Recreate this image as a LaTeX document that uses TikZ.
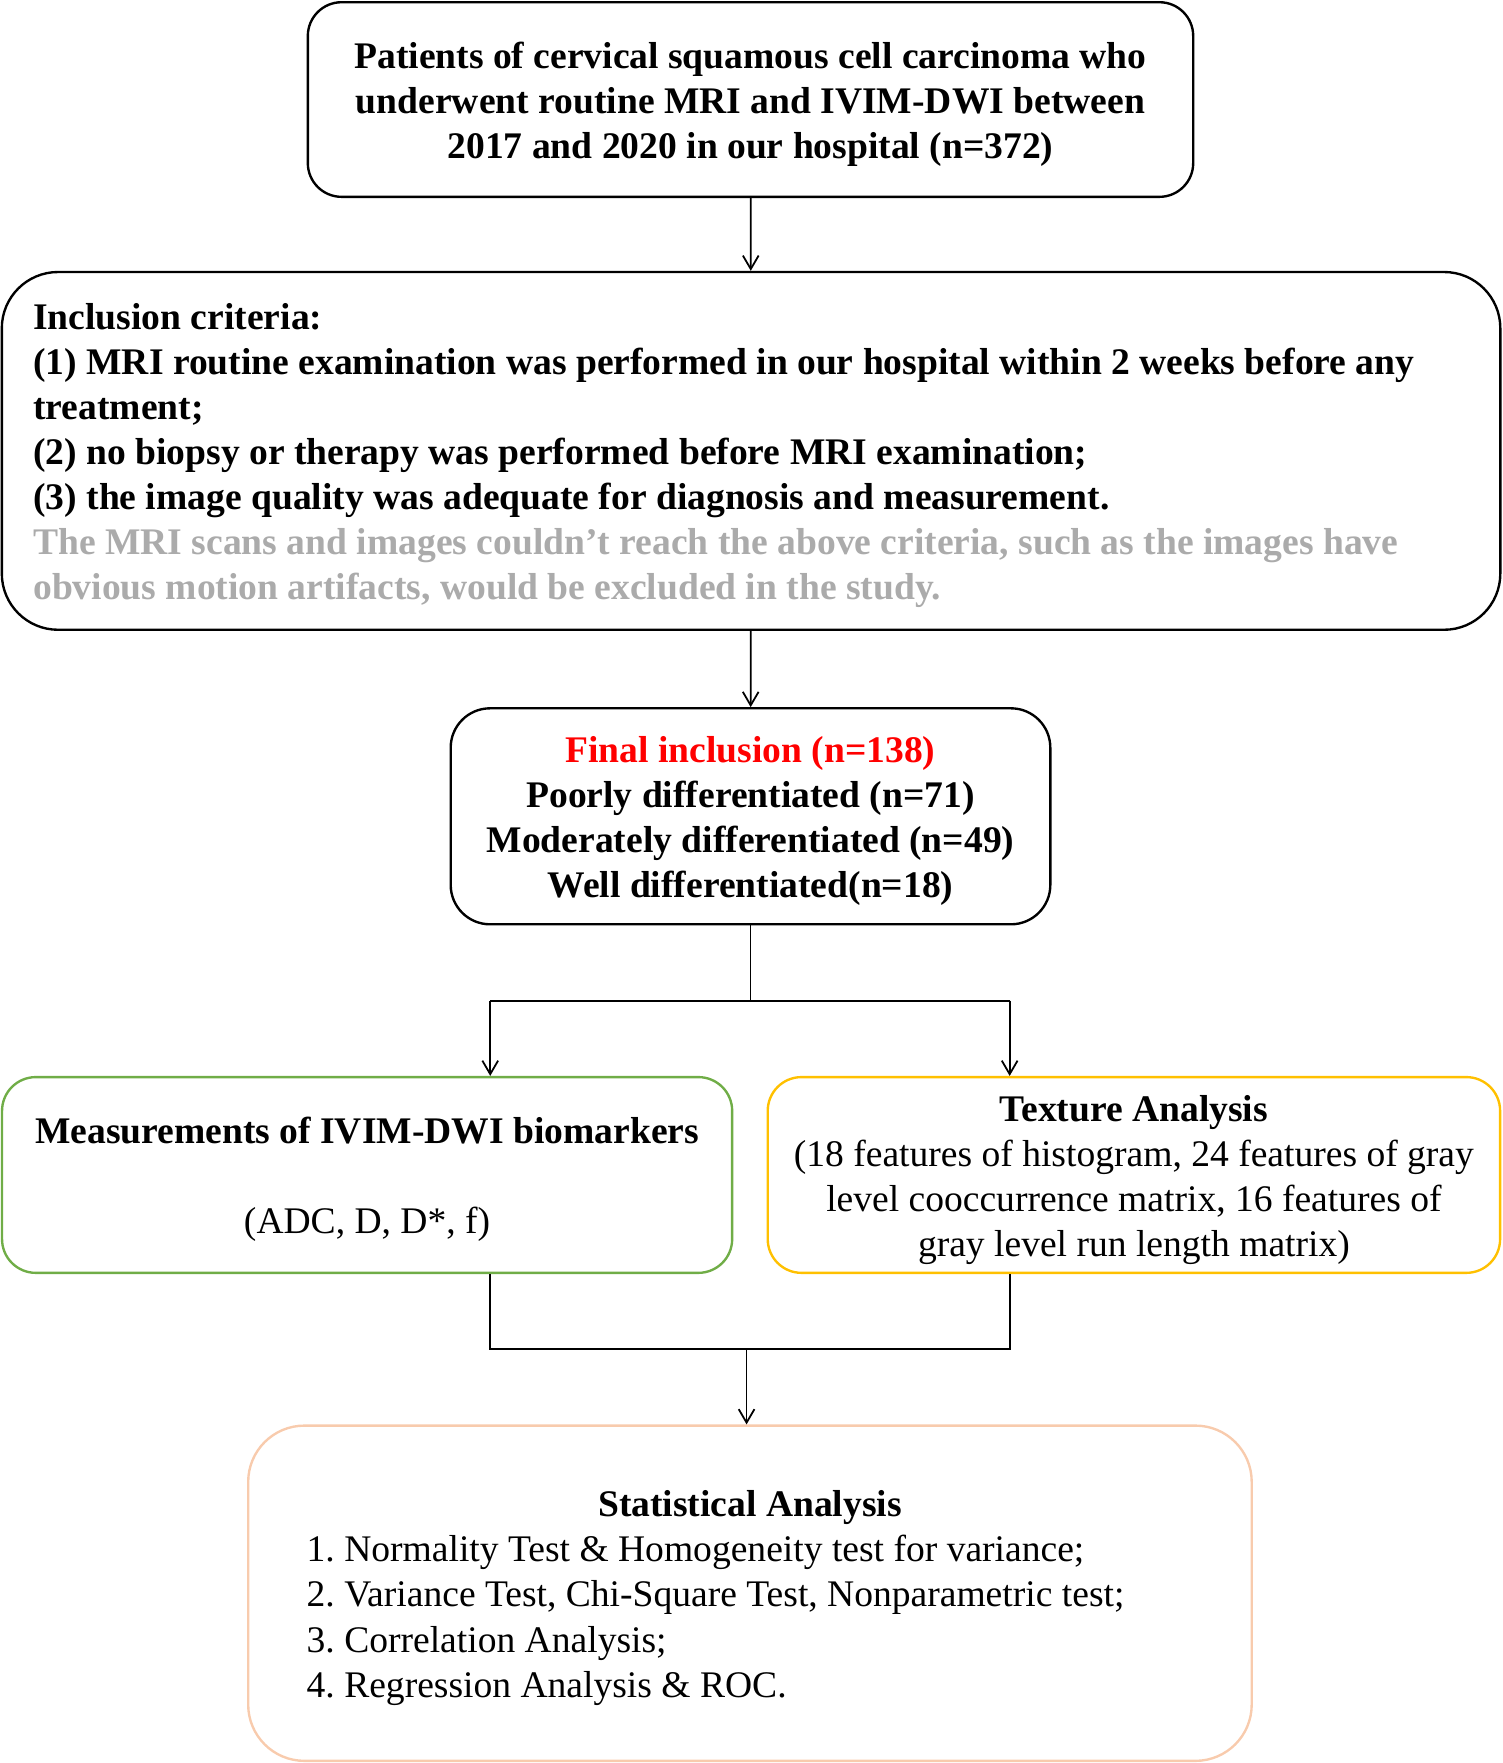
\documentclass[tikz,border=0pt]{standalone}
\usepackage{fontspec}
\setmainfont{Liberation Serif}
\usepackage{xcolor}
\usetikzlibrary{positioning, arrows.meta}
\definecolor{critgray}{HTML}{ABABAB}
\definecolor{measgreen}{HTML}{70AD47}
\definecolor{texyellow}{HTML}{FFC000}
\definecolor{statpeach}{HTML}{F8CBAD}

\begin{document}
\begin{tikzpicture}[x=0.01cm, y=-0.01cm,
    box/.style={draw, line width=0.6pt, align=center, inner sep=0pt, font=\fontsize{9.5pt}{11.4pt}\selectfont,
        execute at begin node={\spaceskip=\fontdimen2\font\xspaceskip=0pt\frenchspacing\rule{0pt}{9pt}}},
    boldbox/.style={box, font=\fontsize{9.5pt}{11.4pt}\selectfont\bfseries},
    line/.style={line width=0.45pt},
    arr/.style={line width=0.45pt, -{Straight Barb[length=1.2mm, width=1.4mm]}}]
    \useasboundingbox (0,0) rectangle (1336,1568);
    % boxes
    \node[boldbox, rounded corners=0.3cm, text width=7.87cm, minimum height=1.73cm] (patients) at (667.5,88.5)
        {Patients of cervical squamous cell carcinoma who\\underwent routine MRI and IVIM-DWI between\\2017 and 2020 in our hospital (n=372)};
    \node[boldbox, align=left, rounded corners=0.5cm, text width=12.76cm, minimum width=13.32cm, minimum height=3.18cm] (criteria) at (668,401)
        {Inclusion criteria:\\
        (1) MRI routine examination was performed in our hospital within 2 weeks before any\\
        treatment;\\
        (2) no biopsy or therapy was performed before MRI examination;\\
        (3) the image quality was adequate for diagnosis and measurement.\\
        \textcolor{critgray}{The MRI scans and images couldn't reach the above criteria, such as the images have}\\
        \textcolor{critgray}{obvious motion artifacts, would be excluded in the study.}};
    \node[boldbox, rounded corners=0.35cm, text width=5.33cm, minimum height=1.92cm] (final) at (667.5,726)
        {\textcolor{red}{Final inclusion (n=138)}\\Poorly differentiated (n=71)\\Moderately differentiated (n=49)\\Well differentiated(n=18)};
    \node[box, draw=measgreen, rounded corners=0.3cm, text width=6.49cm, minimum height=1.74cm] (measure) at (326.5,1045)
        {\textbf{Measurements of IVIM-DWI biomarkers}\\[11.4pt](ADC, D, D*, f)};
    \node[box, draw=texyellow, rounded corners=0.3cm, text width=6.51cm, minimum height=1.74cm] (texture) at (1008.5,1045)
        {\textbf{Texture Analysis}\\(18 features of histogram, 24 features of gray\\level cooccurrence matrix, 16 features of\\gray level run length matrix)};
    \node[box, draw=statpeach, align=left, rounded corners=0.5cm, text width=7.88cm, minimum width=8.92cm, minimum height=2.98cm] (stats) at (667,1417)
        {\makebox[7.88cm][c]{\textbf{Statistical Analysis}}\\
        1. Normality Test \& Homogeneity test for variance;\\
        2. Variance Test, Chi-Square Test, Nonparametric test;\\
        3. Correlation Analysis;\\
        4. Regression Analysis \& ROC.};
    % connectors
    \coordinate (splitL) at (436,890);
    \coordinate (splitR) at (898,890);
    \coordinate (joinL) at (436,1200);
    \coordinate (joinR) at (898,1200);
    \coordinate (join) at (664,1200);
    \draw[arr] (patients) -- (criteria);
    \draw[arr] (criteria) -- (final);
    \draw[line] (final.south) -- (final.south |- splitL);
    \draw[line] (splitL) -- (splitR);
    \draw[arr] (splitL) -- (splitL |- measure.north);
    \draw[arr] (splitR) -- (splitR |- texture.north);
    \draw[line] (measure.south -| joinL) -- (joinL) -- (joinR) -- (texture.south -| joinR);
    \draw[arr] (join) -- (join |- stats.north);
\end{tikzpicture}
\end{document}
